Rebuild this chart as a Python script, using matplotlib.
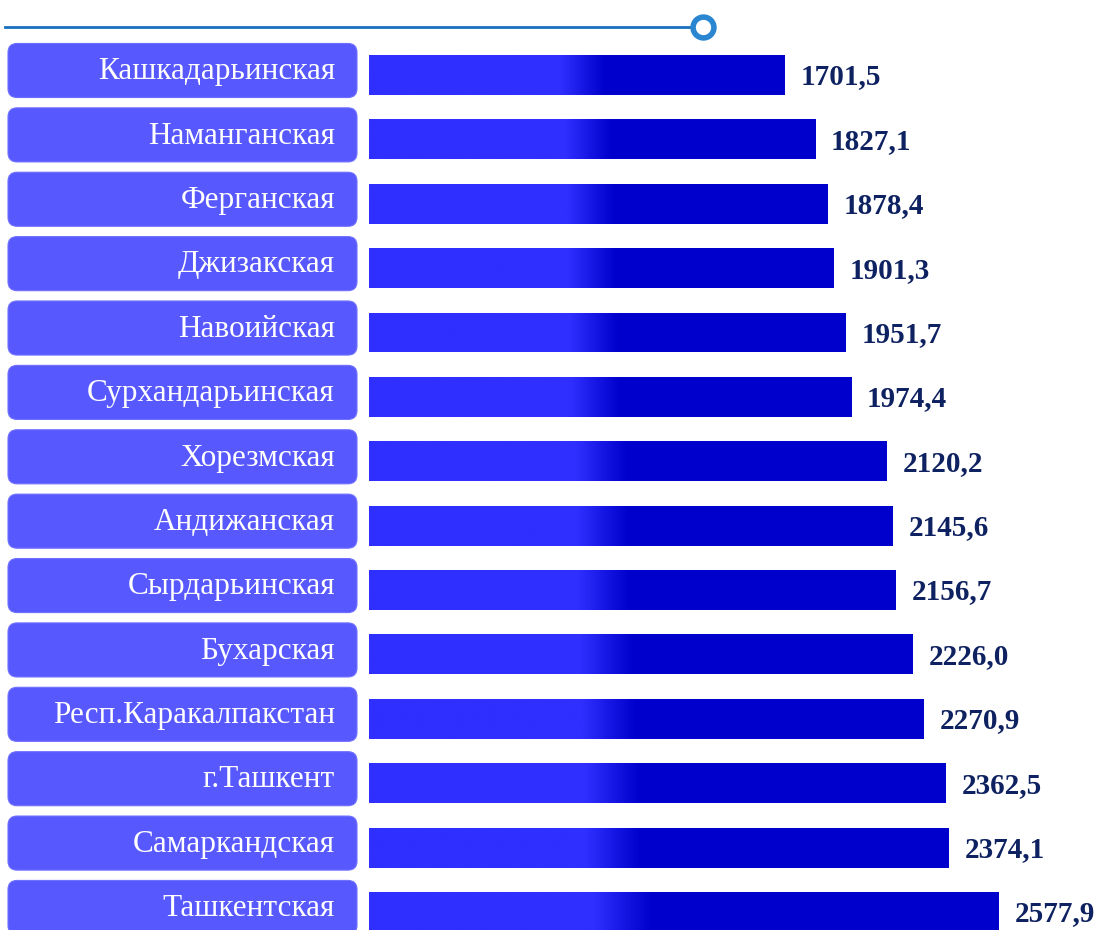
"""
Средняя заработная плата по регионам: горизонтальные столбцы с градиентом
"""

import matplotlib.pyplot as plt
import numpy as np
from matplotlib.colors import LinearSegmentedColormap
from matplotlib.patches import FancyBboxPatch
from matplotlib.lines import Line2D

regions = [
    "Кашкадарьинская",
    "Наманганская",
    "Ферганская",
    "Джизакская",
    "Навоийская",
    "Сурхандарьинская",
    "Хорезмская",
    "Андижанская",
    "Сырдарьинская",
    "Бухарская",
    "Респ.Каракалпакстан",
    "г.Ташкент",
    "Самаркандская",
    "Ташкентская",
]
values = [1701.5, 1827.1, 1878.4, 1901.3, 1951.7, 1974.4, 2120.2,
          2145.6, 2156.7, 2226.0, 2270.9, 2362.5, 2374.1, 2577.9]

LIGHT = "#2f2fff"
DARK = "#0000cc"
BOX = "#5858ff"
VALUE_COLOR = "#0e2160"
LINE_COLOR = "#1a6fbf"


def fmt(v):
    return f"{v:.1f}".replace(".", ",")


def main():
    plt.rcParams["font.family"] = ["Liberation Serif", "DejaVu Serif"]
    fig = plt.figure(figsize=(10.96, 9.30), dpi=100)
    ax = fig.add_axes([0, 0, 1, 1])

    px = 0.2442  # pixels per unit on x
    py = 64.38   # pixels per row on y
    ax.set_xlim(-369 / px, (1096 - 369) / px)
    ax.set_ylim(13.28, -1.165)
    ax.axis("off")

    y = np.arange(len(regions))
    bars = ax.barh(y, values, height=0.62, color=DARK, zorder=2)

    cmap = LinearSegmentedColormap.from_list("g", [LIGHT, DARK])
    t = np.linspace(0, 1, 600)
    for bar, v in zip(bars, values):
        x0, y0 = bar.get_x(), bar.get_y()
        w, h = bar.get_width(), bar.get_height()
        L = w * px
        s = (191 + (L - 415) * 0.154) / L
        e = (236 + (L - 415) * 0.22) / L
        grad = np.clip((t - s) / (e - s), 0, 1)
        im = ax.imshow(grad[np.newaxis, :], cmap=cmap,
                       extent=[x0, x0 + w, y0 + h, y0], aspect="auto",
                       interpolation="bilinear", zorder=3)
        im.set_clip_path(bar)
        ax.text(v + 65, y0 + h / 2 + 0.03, fmt(v), ha="left", va="center",
                fontsize=21, fontweight="bold", color=VALUE_COLOR, zorder=4)

    # rounded label boxes
    bx0 = -361 / px
    bw = 349 / px
    bh = 0.84
    for i, name in enumerate(regions):
        yc = i - 0.07
        box = FancyBboxPatch((bx0, yc - bh / 2), bw, bh,
                             boxstyle=f"round,pad=0,rounding_size={9 / px}",
                             mutation_aspect=px / py,
                             facecolor=BOX, edgecolor="#7070ff", lw=0.8,
                             zorder=2)
        ax.add_patch(box)
        ax.text(-34 / px, yc + 0.02, name, ha="right", va="center",
                fontsize=22.5, color="white", zorder=3)

    # header rule with ring marker
    line = Line2D([5 / 1096, 703 / 1096], [1 - 27 / 930, 1 - 27 / 930],
                  transform=fig.transFigure, color=LINE_COLOR, lw=2)
    fig.add_artist(line)
    ring = Line2D([703 / 1096], [1 - 27 / 930], transform=fig.transFigure,
                  marker="o", markersize=15, markerfacecolor="white",
                  markeredgecolor="#2a86d0", markeredgewidth=4)
    fig.add_artist(ring)

    fig.savefig("out.png", dpi=100)
    plt.close(fig)


if __name__ == "__main__":
    main()
